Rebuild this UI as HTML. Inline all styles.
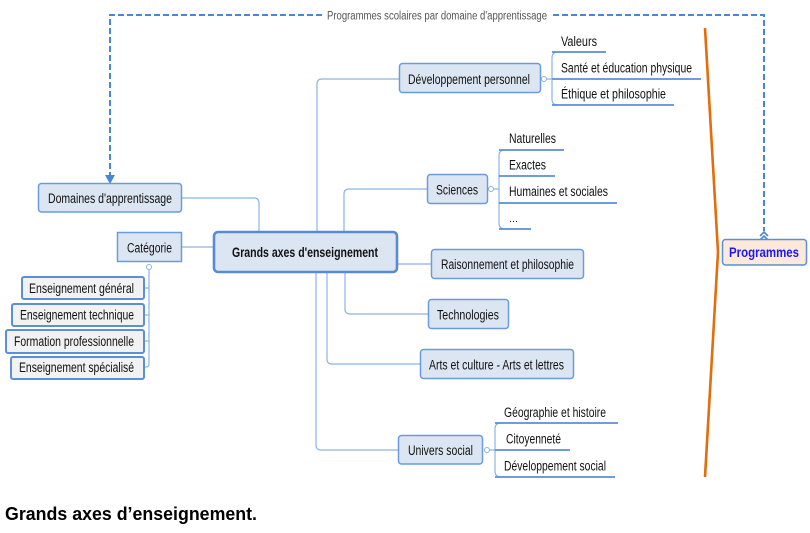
<!DOCTYPE html>
<html><head><meta charset="utf-8"><style>
html,body{margin:0;padding:0;background:#fff;}
svg{display:block;}
text{font-family:"Liberation Sans",Arial,sans-serif;}
</style></head><body>
<svg width="810" height="533" viewBox="0 0 810 533" xmlns="http://www.w3.org/2000/svg">
<!-- dashed relation -->
<g fill="none" stroke="#4a86d6" stroke-width="2" stroke-dasharray="6,3">
<path d="M322 15 L110 15 L110 176"/>
<path d="M553 15 L764 15 L764 231"/>
</g>
<polygon points="105,175 115,175 110,184" fill="#4a86d6"/>
<g fill="none" stroke="#4a86d6" stroke-width="1.6">
<path d="M760 236 L764 232 L768 236"/>
<path d="M760 240 L764 236 L768 240"/>
</g>
<text x="327" y="19.5" font-size="11.5" fill="#555" textLength="220" lengthAdjust="spacingAndGlyphs">Programmes scolaires par domaine d'apprentissage</text>

<!-- connectors -->
<g fill="none" stroke="#8db3e2" stroke-width="1.2">
<path d="M182 198 L254 198 Q259 198 259 203 L259 231"/>
<path d="M317 231 L317 84 Q317 79 322 79 L399 79"/>
<path d="M344 231 L344 194 Q344 189 349 189 L427 189"/>
<path d="M345 273 L345 309 Q345 314 350 314 L428 314"/>
<path d="M327 273 L327 359 Q327 364 332 364 L420 364"/>
<path d="M316 273 L316 445 Q316 450 321 450 L398 450"/>
<path d="M398 264 L431 264"/>
<path d="M182 247 L213 247"/>
<path d="M149 270 L149 364 Q149 367 146 367 L144 367"/>
<path d="M144 288 L149 288 M144 315 L149 315 M144 341 L149 341"/>
<!-- brackets -->
<path d="M546 79 L552 79 M558 52 Q552 52 552 58 L552 99 Q552 105 558 105"/>
<path d="M492 189 L499 189 M505 150 Q499 150 499 156 L499 223 Q499 229 505 229 M499 176 L505 176"/>
<path d="M487 450 L495 450 M501 423 Q495 423 495 429 L495 471 Q495 477 501 477"/>
</g>
<g fill="#fff" stroke="#8db3e2" stroke-width="1">
<circle cx="544" cy="79" r="2.5"/>
<circle cx="491" cy="189" r="2.5"/>
<circle cx="487" cy="450" r="2.5"/>
<circle cx="149" cy="267" r="2.5"/>
</g>
<!-- underlines -->
<g stroke="#5b8fd6" stroke-width="1.8" fill="none">
<path d="M552 52 L606 52 M552 79 L701 79 M552 105 L674 105"/>
<path d="M499 150 L564 150 M499 176 L555 176 M499 203 L617 203 M499 229 L531 229"/>
<path d="M495 423 L618 423 M495 450 L570 450 M495 477 L615 477"/>
</g>

<!-- orange line -->
<path d="M705 28 L718 252 L705 477" fill="none" stroke="#e46c0a" stroke-width="2.6"/>

<!-- boxes -->
<g fill="#dce6f2" stroke="#6a9bdc" stroke-width="1.5">
<rect x="38.5" y="183.5" width="143" height="28.5" rx="3"/>
<rect x="117.5" y="232.5" width="64" height="29" rx="0"/>
<rect x="399.5" y="63.5" width="141" height="29" rx="3"/>
<rect x="427.5" y="174.5" width="60" height="29" rx="3"/>
<rect x="431.5" y="249.5" width="152" height="29" rx="3"/>
<rect x="428.5" y="299.5" width="80" height="29" rx="3"/>
<rect x="420.5" y="349.5" width="153" height="29" rx="3"/>
<rect x="398.5" y="435.5" width="84" height="28.5" rx="3"/>
</g>
<rect x="214" y="232" width="183" height="40" rx="4" fill="#dce6f2" stroke="#5a8ad0" stroke-width="2.6"/>
<g fill="#f2f2f2" stroke="#5b8fd6" stroke-width="2">
<rect x="22" y="277" width="122" height="22" rx="2"/>
<rect x="12" y="304" width="132" height="22" rx="2"/>
<rect x="6" y="330" width="138" height="23" rx="2"/>
<rect x="11" y="357" width="133" height="22" rx="2"/>
</g>
<rect x="722.5" y="239.5" width="84" height="25.5" rx="3" fill="#fde9d9" stroke="#5b8fd6" stroke-width="1.5"/>

<!-- labels -->
<g font-size="13.5" fill="#111">
<text x="48" y="203" textLength="124" lengthAdjust="spacingAndGlyphs">Domaines d'apprentissage</text>
<text x="127" y="252.5" textLength="45" lengthAdjust="spacingAndGlyphs">Catégorie</text>
<text x="29" y="293" textLength="105" lengthAdjust="spacingAndGlyphs">Enseignement général</text>
<text x="20" y="319.5" textLength="114" lengthAdjust="spacingAndGlyphs">Enseignement technique</text>
<text x="14" y="346" textLength="120" lengthAdjust="spacingAndGlyphs">Formation professionnelle</text>
<text x="19" y="372" textLength="115" lengthAdjust="spacingAndGlyphs">Enseignement spécialisé</text>
<text x="408" y="84" textLength="122" lengthAdjust="spacingAndGlyphs">Développement personnel</text>
<text x="561" y="46" textLength="36" lengthAdjust="spacingAndGlyphs">Valeurs</text>
<text x="561" y="72.5" textLength="131" lengthAdjust="spacingAndGlyphs">Santé et éducation physique</text>
<text x="561" y="98.5" textLength="105" lengthAdjust="spacingAndGlyphs">Éthique  et philosophie</text>
<text x="436" y="194.5" textLength="42" lengthAdjust="spacingAndGlyphs">Sciences</text>
<text x="509" y="143" textLength="47" lengthAdjust="spacingAndGlyphs">Naturelles</text>
<text x="509" y="169.5" textLength="37" lengthAdjust="spacingAndGlyphs">Exactes</text>
<text x="509" y="196" textLength="99" lengthAdjust="spacingAndGlyphs">Humaines et sociales</text>
<text x="509" y="222" font-size="10" textLength="9" lengthAdjust="spacingAndGlyphs">...</text>
<text x="441" y="269" textLength="133" lengthAdjust="spacingAndGlyphs">Raisonnement et philosophie</text>
<text x="437" y="319.5" textLength="62" lengthAdjust="spacingAndGlyphs">Technologies</text>
<text x="429" y="369.5" textLength="135" lengthAdjust="spacingAndGlyphs">Arts et culture - Arts et lettres</text>
<text x="408" y="455" textLength="65" lengthAdjust="spacingAndGlyphs">Univers social</text>
<text x="504" y="417" textLength="102" lengthAdjust="spacingAndGlyphs">Géographie et histoire</text>
<text x="506" y="443.5" textLength="55" lengthAdjust="spacingAndGlyphs">Citoyenneté</text>
<text x="504" y="470.5" textLength="102" lengthAdjust="spacingAndGlyphs">Développement social</text>
</g>
<text x="232" y="257" font-size="13.5" font-weight="bold" fill="#111" textLength="146" lengthAdjust="spacingAndGlyphs">Grands axes d'enseignement</text>
<text x="729" y="257" font-size="13.5" font-weight="bold" fill="#1a1aee" textLength="70" lengthAdjust="spacingAndGlyphs">Programmes</text>
<text x="5" y="520" font-size="18" font-weight="bold" fill="#000" textLength="252" lengthAdjust="spacingAndGlyphs">Grands axes d’enseignement.</text>
</svg>
</body></html>
